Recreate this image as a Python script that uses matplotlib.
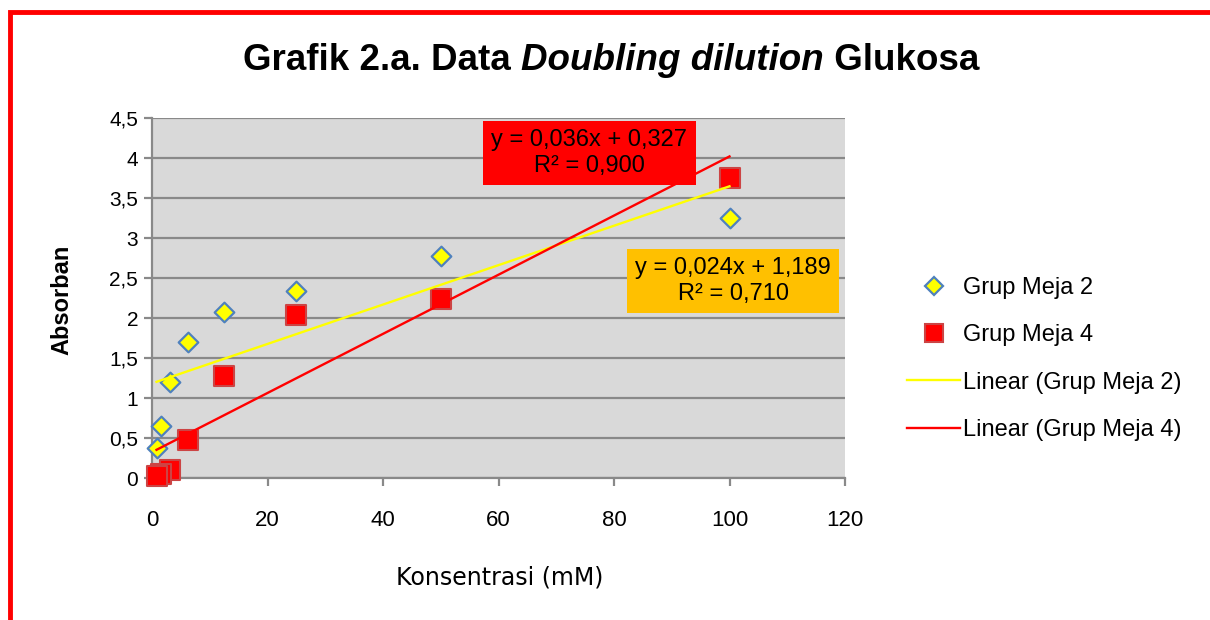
import matplotlib
matplotlib.use("Agg")
import matplotlib.pyplot as plt
from matplotlib.patches import Rectangle
from matplotlib.lines import Line2D
from matplotlib.offsetbox import TextArea, HPacker, AnchoredOffsetbox
import numpy as np

# Data
konsentrasi = [100, 50, 25, 12.5, 6.25, 3.125, 1.5625, 0.78125]
meja2 = [3.25, 2.78, 2.34, 2.07, 1.70, 1.20, 0.65, 0.38]
meja4 = [3.75, 2.24, 2.04, 1.27, 0.47, 0.10, 0.05, 0.03]
x_ticks = [0, 20, 40, 60, 80, 100, 120]
y_ticks = [0, 0.5, 1, 1.5, 2, 2.5, 3, 3.5, 4, 4.5]
y_tick_labels = ["0", "0,5", "1", "1,5", "2", "2,5", "3", "3,5", "4", "4,5"]
eq_meja4 = "y = 0,036x + 0,327\nR² = 0,900"
eq_meja2 = "y = 0,024x + 1,189\nR² = 0,710"

FONT = ["Liberation Sans", "DejaVu Sans"]

W, H = 1210, 620
fig = plt.figure(figsize=(W / 100, H / 100), dpi=100)
fig.patch.set_facecolor("white")

def fx(px):
    return px / W

def fy(py):
    return 1 - py / H

# red frame
fig.add_artist(Rectangle((fx(10), -0.1), 2, 1.1 - 12 / H, transform=fig.transFigure,
                         fill=False, edgecolor="#ff0000", linewidth=3.5))

ax = fig.add_axes([fx(152), fy(478), (845 - 152) / W, (478 - 118) / H])
ax.set_facecolor("#d9d9d9")
ax.set_xlim(0, 120)
ax.set_ylim(0, 4.5)
ax.set_xticks(x_ticks)
ax.set_yticks(y_ticks)
ax.set_yticklabels(y_tick_labels)
ax.grid(axis="y", color="#898989", linewidth=1.6)
ax.set_axisbelow(True)
for s in ["top", "right"]:
    ax.spines[s].set_visible(False)
for s in ["left", "bottom"]:
    ax.spines[s].set_color("#898989")
    ax.spines[s].set_linewidth(1.6)
ax.tick_params(axis="both", colors="#898989", width=1.6, length=6, labelcolor="black")
ax.tick_params(axis="x", pad=17)
ax.tick_params(axis="y", pad=4)
for lab in ax.get_xticklabels():
    lab.set_family(FONT)
    lab.set_fontsize(16)
for lab in ax.get_yticklabels():
    lab.set_family(FONT)
    lab.set_fontsize(15)

x = np.array(konsentrasi)
ax.scatter(konsentrasi, meja2, marker="D", s=100, facecolor="#ffff00", edgecolor="#4f81bd",
           linewidth=1.6, zorder=3, clip_on=False)
ax.scatter(konsentrasi, meja4, marker="s", s=210, facecolor="#ff0000", edgecolor="#cc4444",
           linewidth=1.5, zorder=3, clip_on=False)

xs = np.array([x.min(), x.max()])
p2 = np.polyfit(x, meja2, 1)
p4 = np.polyfit(x, meja4, 1)
ax.plot(xs, np.polyval(p2, xs), color="#ffff00", linewidth=1.7, zorder=4)
ax.plot(xs, np.polyval(p4, xs), color="#ff0000", linewidth=1.7, zorder=4)

# equation boxes
fig.text(fx(589), fy(153), eq_meja4, ha="center", va="center", fontsize=17,
         family=FONT, linespacing=1.2, zorder=5,
         bbox=dict(boxstyle="square,pad=0.36", facecolor="#ff0000", edgecolor="none"))
fig.text(fx(733), fy(281), eq_meja2, ha="center", va="center", fontsize=17,
         family=FONT, linespacing=1.2, zorder=5,
         bbox=dict(boxstyle="square,pad=0.36", facecolor="#ffc000", edgecolor="none"))

fig.text(fx(62), fy(300), "Absorban", rotation=90, ha="center", va="center",
         fontsize=17, fontweight="bold", family=FONT)
fig.text(fx(500), fy(578), "Konsentrasi (mM)", ha="center", va="center",
         fontsize=17, family="DejaVu Sans")

# title with italic part
title_parts = [("Grafik 2.a. Data ", "normal"), ("Doubling dilution", "italic"), (" Glukosa", "normal")]
areas = [TextArea(t, textprops=dict(fontsize=26.5, fontweight="bold", style=st, family=FONT))
         for t, st in title_parts]
box = HPacker(children=areas, align="baseline", pad=0, sep=0)
ab = AnchoredOffsetbox(loc="center", child=box, frameon=False, pad=0, borderpad=0,
                       bbox_to_anchor=(fx(611), fy(61)), bbox_transform=fig.transFigure)
fig.add_artist(ab)

handles = [
    Line2D([], [], marker="D", linestyle="none", markersize=9, markerfacecolor="#ffff00",
           markeredgecolor="#4f81bd", markeredgewidth=1.6),
    Line2D([], [], marker="s", linestyle="none", markersize=12.5, markerfacecolor="#ff0000",
           markeredgecolor="#cc4444", markeredgewidth=1.5),
    Line2D([], [], color="#ffff00", linewidth=1.7),
    Line2D([], [], color="#ff0000", linewidth=1.7),
]
labels = ["Grup Meja 2", "Grup Meja 4", "Linear (Grup Meja 2)", "Linear (Grup Meja 4)"]
leg = fig.legend(handles, labels, loc="upper left", bbox_to_anchor=(fx(907), fy(277)),
                 frameon=False, prop=dict(family=FONT, size=17), labelspacing=1.07,
                 handlelength=2.25, handletextpad=0.13, borderaxespad=0, borderpad=0)

fig.savefig("out.png", dpi=100)
